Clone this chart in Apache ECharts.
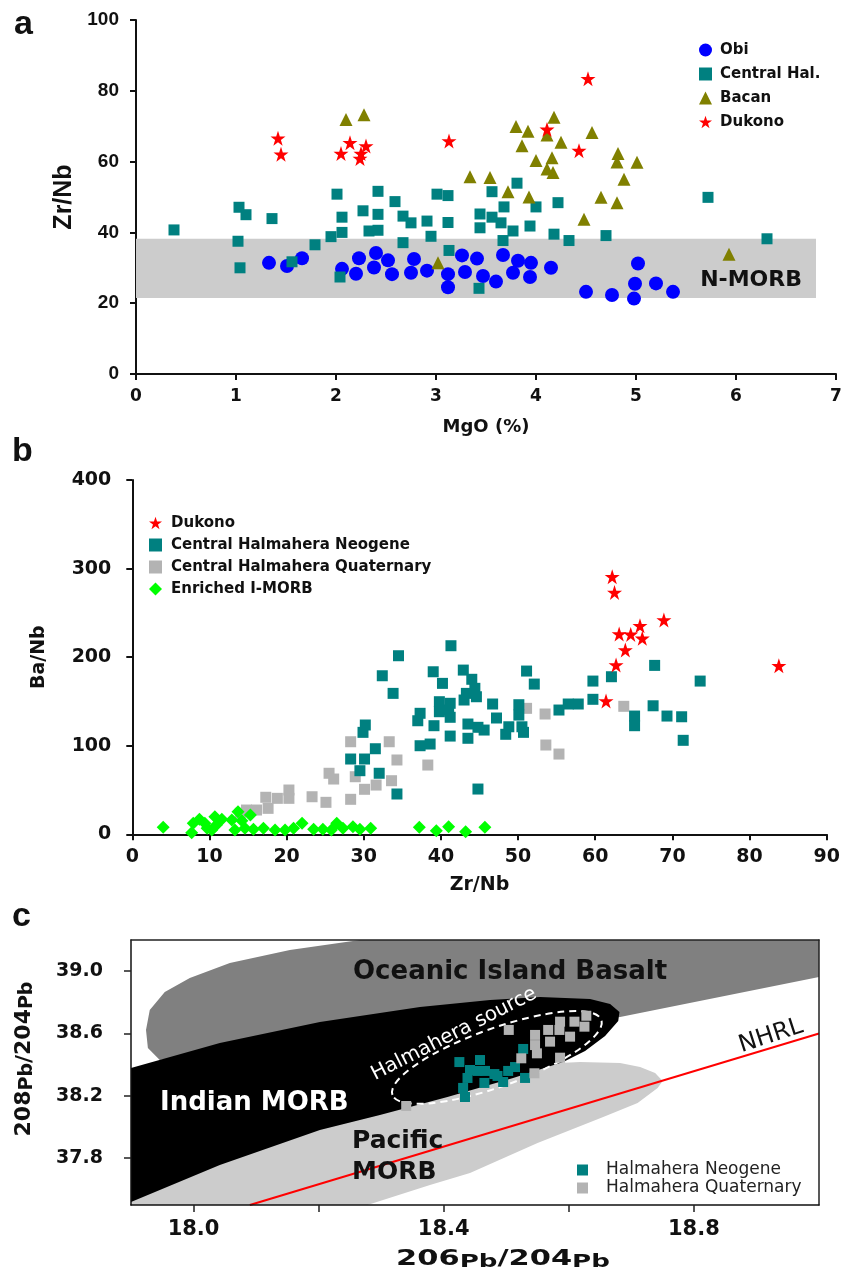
<!DOCTYPE html>
<html><head><meta charset="utf-8">
<script src="https://cdn.jsdelivr.net/npm/echarts@6/dist/echarts.min.js"></script>
<style>html,body{margin:0;padding:0;background:#fff}#chart{width:858px;height:1280px}</style>
</head><body><div id="chart"></div>
<script>
// ---------- Panel a: Zr/Nb vs MgO ----------
const obiMgO   = [1.33,1.51,1.66,2.06,2.20,2.23,2.40,2.38,2.52,2.56,2.78,2.75,2.91,3.12,3.12,3.26,3.29,3.41,3.47,3.60,3.67,3.77,3.82,3.94,3.95,4.15,4.50,4.76,4.98,4.99,5.02,5.20,5.37];
const obiZrNb  = [31.4,30.5,32.7,29.7,28.3,32.7,34.2,30.1,32.1,28.2,32.5,28.6,29.2,28.2,24.5,33.5,28.8,32.6,27.7,26.1,33.6,28.6,32.0,27.4,31.4,30.0,23.2,22.3,21.3,25.5,31.2,25.6,23.2];
const chMgO    = [0.38,1.03,1.10,1.02,1.04,1.36,1.56,1.79,1.95,2.01,2.06,2.06,2.04,2.27,2.42,2.42,2.33,2.42,2.59,2.67,2.75,2.67,2.91,2.95,3.01,3.12,3.12,3.13,3.44,3.44,3.43,3.56,3.56,3.65,3.68,3.77,3.67,3.81,3.94,4.00,4.22,4.18,4.33,4.70,5.72,6.31];
const chZrNb   = [40.7,47.1,45.0,37.5,30.0,43.9,31.7,36.5,38.8,50.8,44.3,40.0,27.4,46.1,51.6,45.1,40.4,40.6,48.7,44.6,42.7,37.1,43.2,38.9,50.8,50.4,42.8,34.9,45.2,41.3,24.2,51.5,44.3,42.7,47.2,40.4,37.7,53.9,41.8,47.2,48.4,39.5,37.7,39.1,49.9,38.2];
const bacMgO   = [2.10,2.28,3.34,3.02,3.54,3.72,3.93,3.80,3.92,3.86,4.00,4.11,4.18,4.25,4.16,4.11,4.17,4.56,4.65,4.48,4.82,4.81,5.01,4.88,4.81,5.93];
const bacZrNb  = [71.9,73.2,55.7,31.4,55.5,51.5,50.0,69.9,68.6,64.5,60.3,67.5,72.5,65.5,61.1,57.9,56.9,68.2,49.9,43.7,62.3,59.9,59.8,55.0,48.4,33.8];
const dukMgO   = [1.42,1.45,2.05,2.14,2.30,2.25,2.24,3.13,4.52,4.11,4.43];
const dukZrNbA = [66.6,62.1,62.3,65.3,64.4,62.3,60.9,65.8,83.4,69.1,63.1];
const nmorbMgO  = [0, 6.8];     // N-MORB field, MgO range
const nmorbZrNb = [21.5, 38.2]; // N-MORB field, Zr/Nb range

// ---------- Panel b: Ba/Nb vs Zr/Nb ----------
const dukZrNbB = [62.2,62.5,68.9,65.8,63.1,64.6,66.1,63.9,62.7,61.4,83.8];
const dukBaNb  = [290.7,273.1,241.9,235.4,226.1,225.7,221.2,208.0,191.1,150.5,190.3];
const neoZrNb  = [34.5,32.4,33.8,41.3,39.0,40.2,42.9,44.0,39.8,41.2,41.0,39.8,41.2,43.0,43.3,44.4,44.6,37.3,37.0,39.1,43.5,44.8,41.2,43.5,37.3,38.6,30.2,29.9,31.5,28.3,30.1,29.5,32.0,34.3,44.8,45.6,51.1,52.1,46.7,47.2,50.1,50.1,48.8,50.5,48.4,50.7,55.3,56.5,57.8,59.7,59.7,62.1,65.1,65.1,67.7,67.5,69.3,71.2,71.4,73.6];
const neoBaNb  = [201.6,179.0,159.1,212.9,183.5,170.4,185.4,175.0,149.7,147.9,140.3,138.4,132.1,151.6,159.1,164.8,155.3,136.6,128.2,122.6,124.5,120.8,110.9,108.4,100.0,101.9,123.4,115.1,96.6,85.0,85.0,71.8,68.9,45.5,51.1,117.7,184.3,169.6,147.1,131.3,146.3,134.6,121.4,121.4,112.9,115.1,140.3,147.1,147.1,173.0,152.4,177.9,133.5,122.6,190.7,145.1,133.5,132.7,106.1,173.0];
const quatZrNb = [28.3,33.3,34.3,38.3,28.9,30.1,31.6,33.6,28.3,25.5,26.1,23.3,25.1,20.3,20.3,18.8,17.3,17.6,16.1,14.8,14.0,51.1,53.5,53.6,55.3,63.7];
const quatBaNb = [104.5,104.5,83.9,78.2,65.0,50.8,55.6,60.5,39.5,68.9,62.4,42.4,36.1,50.0,40.6,40.6,41.8,29.3,27.4,27.4,23.7,142.2,135.8,100.8,90.6,144.5];
const imorbZrNb = [4.0,7.7,7.9,8.7,9.4,9.7,10.3,10.7,10.9,11.6,12.9,13.3,13.7,14.2,14.6,15.3,15.7,17.0,18.5,19.8,20.9,22.0,23.5,24.7,25.8,26.5,27.3,28.6,29.5,30.9,37.2,39.4,41.0,43.2,45.7];
const imorbBaNb = [7.9,1.8,12.4,16.9,12.4,6.8,4.9,19.9,10.5,16.9,16.1,4.9,25.5,15.3,6.8,21.8,5.6,6.8,4.9,4.9,6.8,12.4,5.6,5.6,4.9,12.4,6.8,8.6,5.6,6.8,7.9,4.1,8.6,2.9,7.9];

// ---------- Panel c: 208Pb/204Pb vs 206Pb/204Pb ----------
const neoPb206  = [18.425,18.458,18.527,18.454,18.466,18.481,18.438,18.465,18.495,18.503,18.514,18.530,18.431,18.434,18.442,18.486];
const neoPb208  = [38.417,38.430,38.501,38.360,38.360,38.340,38.315,38.283,38.289,38.360,38.385,38.315,38.251,38.193,38.366,38.328];
const quatPb206 = [18.504,18.546,18.567,18.586,18.585,18.609,18.625,18.628,18.602,18.570,18.546,18.549,18.524,18.586,18.545,18.340];
const quatPb208 = [38.623,38.591,38.623,38.676,38.623,38.676,38.644,38.714,38.580,38.548,38.526,38.473,38.441,38.445,38.345,38.135];
const oibField = [[17.924,38.623],[17.930,38.751],[17.954,38.866],[17.994,38.956],[18.058,39.052],[18.154,39.136],[18.266,39.2],[19.0,39.2],[19.0,38.963],[18.682,38.706],[18.490,38.655],[18.330,38.610],[18.170,38.546],[18.010,38.462],[17.946,38.430],[17.927,38.507]];
const indianField = [[17.9,38.379],[18.042,38.539],[18.202,38.674],[18.362,38.770],[18.474,38.815],[18.554,38.834],[18.634,38.822],[18.666,38.789],[18.681,38.738],[18.679,38.680],[18.658,38.584],[18.626,38.488],[18.591,38.417],[18.511,38.315],[18.406,38.193],[18.298,38.077],[18.202,37.981],[18.042,37.757],[17.9,37.52]];
const pacificField = [[17.9,38.174],[18.586,38.411],[18.618,38.417],[18.682,38.411],[18.714,38.385],[18.738,38.347],[18.750,38.295],[18.742,38.251],[18.710,38.154],[18.655,38.065],[18.550,37.898],[18.442,37.705],[18.378,37.628],[18.278,37.5],[17.9,37.5]];
const nhrlLine = [[18.09,37.5],[19.0,38.6]];
const sourceEllipseAxis = [[18.318,38.206],[18.652,38.687]]; // ends of the major axis
const pbXTicks = [18.0,18.2,18.4,18.6,18.8];
const pbXLabels = [18.0,18.4,18.8];
const pbYTicks = [37.8,38.2,38.6,39.0];

// ---------- helpers ----------
const zip = (xs, ys) => xs.map((x, i) => [x, ys[i]]);
const DJ = 'DejaVu Sans', LIB = 'Liberation Sans';
const INK = '#111';
const STAR = 'path://M50,2 L61.8,37.6 L99,37.6 L68.9,59.6 L80.4,95.1 L50,73.2 L19.6,95.1 L31.1,59.6 L1,37.6 L38.2,37.6 Z';
const TEAL = '#008080', GRAY = '#b3b3b3';
const solid = (color) => ({ color, opacity: 1 });

function polygonSeries(pts, fill) {
  return {
    type: 'custom', xAxisIndex: 2, yAxisIndex: 2, silent: true, z: 1, data: pts,
    renderItem: (params, api) => params.dataIndex === 0
      ? { type: 'polygon', shape: { points: pts.map(p => api.coord(p)) }, style: { fill } }
      : null
  };
}

const axisCommon = (w) => ({
  axisLine: { show: true, onZero: false, lineStyle: { color: INK, width: w } },
  axisTick: { show: true, length: 6, lineStyle: { color: INK, width: w } },
  splitLine: { show: false }
});

const chart = echarts.init(document.getElementById('chart'));
const option = {
  animation: false,
  backgroundColor: '#fff',
  grid: [
    { left: 136, top: 20, width: 700, height: 354 },
    { left: 132.3, top: 480, width: 694.4, height: 354.3 },
    { left: 131, top: 940, width: 688, height: 265 }
  ],
  xAxis: [
    Object.assign({ gridIndex: 0, type: 'value', min: 0, max: 7, interval: 1,
      name: 'MgO (%)', nameLocation: 'middle', nameGap: 44,
      nameTextStyle: { fontFamily: DJ, fontWeight: 'bold', fontSize: 18, color: INK },
      axisLabel: { fontFamily: DJ, fontWeight: 'bold', fontSize: 17, color: INK, margin: 14 } }, axisCommon(2)),
    Object.assign({ gridIndex: 1, type: 'value', min: 0, max: 90, interval: 10,
      name: 'Zr/Nb', nameLocation: 'middle', nameGap: 41,
      nameTextStyle: { fontFamily: DJ, fontWeight: 'bold', fontSize: 19, color: INK },
      axisLabel: { fontFamily: DJ, fontWeight: 'bold', fontSize: 19, color: INK, margin: 13 } }, axisCommon(2)),
    Object.assign({ gridIndex: 2, type: 'value', min: 17.9, max: 19.0, z: 10,
      axisLabel: { customValues: pbXLabels, formatter: v => v.toFixed(1), fontFamily: DJ, fontWeight: 'bold', fontSize: 21, color: INK, margin: 14 } }, axisCommon(1.5),
      { axisTick: { show: true, customValues: pbXTicks, length: 7, lineStyle: { color: '#222', width: 1.5 } } }),
    { gridIndex: 2, type: 'value', min: 17.9, max: 19.0, position: 'top', z: 10,
      axisLine: { show: true, onZero: false, lineStyle: { color: '#222', width: 1.5 } },
      axisTick: { show: false }, axisLabel: { show: false }, splitLine: { show: false } }
  ],
  yAxis: [
    Object.assign({ gridIndex: 0, type: 'value', min: 0, max: 100, interval: 20,
      name: 'Zr/Nb', nameLocation: 'middle', nameGap: 44, nameRotate: 90,
      nameTextStyle: { fontFamily: LIB, fontWeight: 'bold', fontSize: 25, color: INK },
      axisLabel: { fontFamily: LIB, fontWeight: 'bold', fontSize: 19, color: INK, margin: 17 } }, axisCommon(2)),
    Object.assign({ gridIndex: 1, type: 'value', min: 0, max: 400, interval: 100,
      name: 'Ba/Nb', nameLocation: 'middle', nameGap: 84, nameRotate: 90,
      nameTextStyle: { fontFamily: DJ, fontWeight: 'bold', fontSize: 19, color: INK },
      axisLabel: { fontFamily: DJ, fontWeight: 'bold', fontSize: 19, color: INK, margin: 21 } }, axisCommon(2)),
    Object.assign({ gridIndex: 2, type: 'value', min: 37.5, max: 39.2, z: 10,
      axisLabel: { customValues: pbYTicks, formatter: v => v.toFixed(1), fontFamily: DJ, fontWeight: 'bold', fontSize: 19, color: INK, margin: 28 } }, axisCommon(1.5),
      { axisTick: { show: true, customValues: pbYTicks, length: 7, lineStyle: { color: '#222', width: 1.5 } } }),
    { gridIndex: 2, type: 'value', min: 37.5, max: 39.2, position: 'right', z: 10,
      axisLine: { show: true, onZero: false, lineStyle: { color: '#222', width: 1.5 } },
      axisTick: { show: false }, axisLabel: { show: false }, splitLine: { show: false } }
  ],
  legend: [
    { left: 699, top: 38, orient: 'vertical', padding: 0, itemGap: 0, itemWidth: 13, itemHeight: 13,
      data: ['Obi', 'Central Hal.', 'Bacan', 'Dukono'],
      textStyle: { fontFamily: DJ, fontWeight: 'bold', fontSize: 15, color: INK, lineHeight: 24, padding: [0, 0, 0, 3] } },
    { left: 149, top: 512, orient: 'vertical', padding: 0, itemGap: 0, itemWidth: 13, itemHeight: 13,
      data: ['Dukono', 'Central Halmahera Neogene', 'Central Halmahera Quaternary', 'Enriched I-MORB'],
      textStyle: { fontFamily: DJ, fontWeight: 'bold', fontSize: 15, color: INK, lineHeight: 22, padding: [0, 0, 0, 4] } },
    { left: 577, top: 1161, orient: 'vertical', padding: 0, itemGap: 0, itemWidth: 11, itemHeight: 11, icon: 'rect',
      data: ['Halmahera Neogene', 'Halmahera Quaternary'],
      textStyle: { fontFamily: DJ, fontSize: 17, color: '#222', lineHeight: 18, padding: [0, 0, 0, 13] } }
  ],
  graphic: [
    { type: 'text', x: 14, y: 25, style: { text: 'a', fontFamily: LIB, fontWeight: 'bold', fontSize: 34, fill: INK, verticalAlign: 'middle' } },
    { type: 'text', x: 12, y: 452, style: { text: 'b', fontFamily: LIB, fontWeight: 'bold', fontSize: 34, fill: INK, verticalAlign: 'middle' } },
    { type: 'text', x: 12, y: 917, style: { text: 'c', fontFamily: LIB, fontWeight: 'bold', fontSize: 34, fill: INK, verticalAlign: 'middle' } },
    { type: 'text', x: 353, y: 972, z: 20, style: { text: 'Oceanic Island Basalt', fontFamily: DJ, fontWeight: 'bold', fontSize: 26, fill: INK, verticalAlign: 'middle' } },
    { type: 'text', x: 160, y: 1103, z: 20, style: { text: 'Indian MORB', fontFamily: DJ, fontWeight: 'bold', fontSize: 26, fill: '#fff', verticalAlign: 'middle' } },
    { type: 'text', x: 352, y: 1157, z: 20, style: { text: 'Pacific\nMORB', fontFamily: DJ, fontWeight: 'bold', fontSize: 25, lineHeight: 31, fill: INK, verticalAlign: 'middle' } },
    { type: 'text', x: 454, y: 1034, z: 20, rotation: 27 * Math.PI / 180, style: { text: 'Halmahera source', fontFamily: DJ, fontSize: 20, fill: '#fff', align: 'center', verticalAlign: 'middle' } },
    { type: 'text', x: 771, y: 1036, z: 20, rotation: 18 * Math.PI / 180, style: { text: 'NHRL', fontFamily: DJ, fontSize: 24, fill: INK, align: 'center', verticalAlign: 'middle' } },
    { type: 'text', x: 503, y: 1260, scaleX: 1.45, z: 20, style: {
        text: '{n|206}{s|Pb}/{n|204}{s|Pb}', fontFamily: DJ, fontWeight: 'bold', fontSize: 21, fill: INK, align: 'center', verticalAlign: 'middle',
        rich: { n: { fontFamily: DJ, fontWeight: 'bold', fontSize: 21, lineHeight: 22, verticalAlign: 'top' },
                s: { fontFamily: DJ, fontWeight: 'bold', fontSize: 18, lineHeight: 18, padding: [10, 0, 0, 0], verticalAlign: 'bottom' } } } },
    { type: 'text', x: 25, y: 1059, rotation: Math.PI / 2, z: 20, style: {
        text: '{n|208}{s|Pb}/{n|204}{s|Pb}', fontFamily: DJ, fontWeight: 'bold', fontSize: 22, fill: INK, align: 'center', verticalAlign: 'middle',
        rich: { n: { fontFamily: DJ, fontWeight: 'bold', fontSize: 22, lineHeight: 23, verticalAlign: 'top' },
                s: { fontFamily: DJ, fontWeight: 'bold', fontSize: 19, lineHeight: 19, padding: [10, 0, 0, 0], verticalAlign: 'bottom' } } } }
  ],
  series: [
    // ----- panel a -----
    { type: 'scatter', xAxisIndex: 0, yAxisIndex: 0, z: 1, silent: true, data: [],
      markArea: { silent: true, itemStyle: { color: '#cccccc', opacity: 1 },
        label: { show: true, position: 'insideRight', distance: 14, offset: [0, 12], formatter: 'N-MORB',
                 fontFamily: DJ, fontWeight: 'bold', fontSize: 22, color: INK },
        data: [[{ xAxis: nmorbMgO[0], yAxis: nmorbZrNb[0] }, { xAxis: nmorbMgO[1], yAxis: nmorbZrNb[1] }]] } },
    { name: 'Obi', type: 'scatter', xAxisIndex: 0, yAxisIndex: 0, symbol: 'circle', symbolSize: 14,
      itemStyle: solid('#0000ff'), data: zip(obiMgO, obiZrNb) },
    { name: 'Central Hal.', type: 'scatter', xAxisIndex: 0, yAxisIndex: 0, symbol: 'rect', symbolSize: 11,
      itemStyle: solid(TEAL), data: zip(chMgO, chZrNb) },
    { name: 'Bacan', type: 'scatter', xAxisIndex: 0, yAxisIndex: 0, symbol: 'triangle', symbolSize: 13,
      itemStyle: solid('#808000'), data: zip(bacMgO, bacZrNb) },
    { name: 'Dukono', type: 'scatter', xAxisIndex: 0, yAxisIndex: 0, symbol: STAR, symbolSize: 15,
      itemStyle: solid('#ff0000'), data: zip(dukMgO, dukZrNbA) },
    // ----- panel b -----
    { name: 'Central Halmahera Quaternary', type: 'scatter', xAxisIndex: 1, yAxisIndex: 1, symbol: 'rect', symbolSize: 11,
      itemStyle: solid(GRAY), data: zip(quatZrNb, quatBaNb) },
    { name: 'Central Halmahera Neogene', type: 'scatter', xAxisIndex: 1, yAxisIndex: 1, symbol: 'rect', symbolSize: 11,
      itemStyle: solid(TEAL), data: zip(neoZrNb, neoBaNb) },
    { name: 'Enriched I-MORB', type: 'scatter', xAxisIndex: 1, yAxisIndex: 1, symbol: 'diamond', symbolSize: 13,
      itemStyle: solid('#00ff00'), data: zip(imorbZrNb, imorbBaNb) },
    { name: 'Dukono', type: 'scatter', xAxisIndex: 1, yAxisIndex: 1, symbol: STAR, symbolSize: 15,
      itemStyle: solid('#ff0000'), data: zip(dukZrNbB, dukBaNb) },
    // ----- panel c -----
    polygonSeries(oibField, '#808080'),
    polygonSeries(pacificField, '#cccccc'),
    polygonSeries(indianField, '#000000'),
    { type: 'line', xAxisIndex: 2, yAxisIndex: 2, data: nhrlLine, symbol: 'none', silent: true, z: 2,
      lineStyle: { color: '#ff0000', width: 2 } },
    { type: 'custom', xAxisIndex: 2, yAxisIndex: 2, silent: true, z: 2, data: sourceEllipseAxis,
      renderItem: (params, api) => {
        if (params.dataIndex !== 0) return null;
        const a = api.coord(sourceEllipseAxis[0]), b = api.coord(sourceEllipseAxis[1]);
        const rx = Math.hypot(b[0] - a[0], b[1] - a[1]) / 2;
        return { type: 'ellipse', x: (a[0] + b[0]) / 2, y: (a[1] + b[1]) / 2,
          rotation: Math.atan2(a[1] - b[1], b[0] - a[0]),
          shape: { cx: 0, cy: 0, rx: rx, ry: 29 },
          style: { fill: 'none', stroke: '#ffffff', lineWidth: 2, lineDash: [7, 5] } };
      } },
    { name: 'Halmahera Neogene', type: 'scatter', xAxisIndex: 2, yAxisIndex: 2, symbol: 'rect', symbolSize: 10, z: 3,
      itemStyle: solid(TEAL), data: zip(neoPb206, neoPb208) },
    { name: 'Halmahera Quaternary', type: 'scatter', xAxisIndex: 2, yAxisIndex: 2, symbol: 'rect', symbolSize: 10, z: 3,
      itemStyle: solid(GRAY), data: zip(quatPb206, quatPb208) }
  ]
};
chart.setOption(option);
</script></body></html>
